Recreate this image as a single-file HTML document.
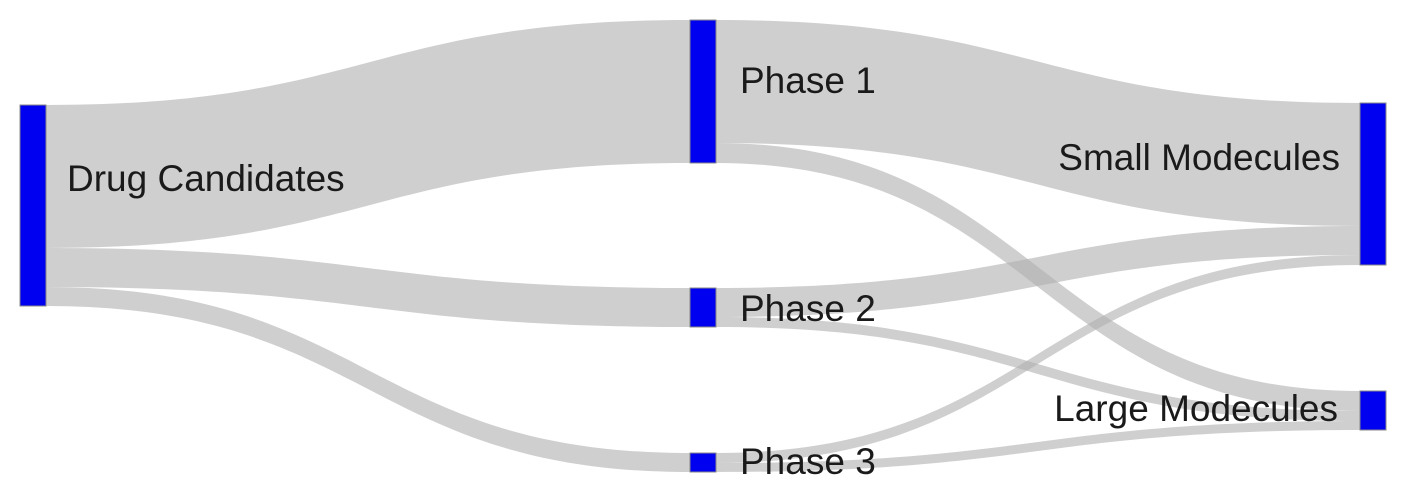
<!DOCTYPE html>
<html><head><meta charset="utf-8">
<style>
html,body{margin:0;padding:0;background:#fff;}
svg{display:block;}
text{font-family:"Liberation Sans",sans-serif;font-size:37px;fill:#1a1a1a;}
</style></head>
<body>
<svg id="chart" width="1407" height="493" viewBox="0 0 1407 493"></svg>
<script>
const nodeNames = ["Drug Candidates","Phase 1","Phase 2","Phase 3","Small Modecules","Large Modecules"];
const linkSources = [0,0,0,1,1,2,2,3,3];
const linkTargets = [1,2,3,4,5,4,5,4,5];
const linkValues = [143,39,19,123,20,29,10,10,9];

// layout (not data)
const nodeX = [20,690,690,690,1360,1360];
const nodeTop = [105,20,288,453,103,391];
const labelBase = [191,93,321,474,170,421];
const labelGap = [21,24,24,24,20,22];
const nodeW = 26;
const k = 1;
const NS = "http://www.w3.org/2000/svg";
const svg = document.getElementById('chart');

const inSum = nodeNames.map(()=>0), outSum = nodeNames.map(()=>0);
linkValues.forEach((v,i)=>{outSum[linkSources[i]]+=v; inSum[linkTargets[i]]+=v;});
const nodeH = nodeNames.map((_,i)=>Math.max(inSum[i],outSum[i])*k);

const gL = document.createElementNS(NS,'g');
svg.appendChild(gL);
const outOff = nodeNames.map(()=>0), inOff = nodeNames.map(()=>0);
linkValues.forEach((v,i)=>{
  const s=linkSources[i], t=linkTargets[i], w=v*k;
  const x0=nodeX[s]+nodeW, x1=nodeX[t];
  const y0=nodeTop[s]+outOff[s], y1=nodeTop[t]+inOff[t];
  outOff[s]+=w; inOff[t]+=w;
  const xm=(x0+x1)/2;
  const p=document.createElementNS(NS,'path');
  p.setAttribute('d',`M${x0},${y0} C${xm},${y0} ${xm},${y1} ${x1},${y1} L${x1},${y1+w} C${xm},${y1+w} ${xm},${y0+w} ${x0},${y0+w} Z`);
  p.setAttribute('fill','rgba(175,175,175,0.6)');
  
  
  gL.appendChild(p);
});

nodeNames.forEach((n,i)=>{
  const r=document.createElementNS(NS,'rect');
  r.setAttribute('x',nodeX[i]); r.setAttribute('y',nodeTop[i]);
  r.setAttribute('width',nodeW); r.setAttribute('height',nodeH[i]);
  r.setAttribute('fill','#0000f0'); r.setAttribute('stroke','#888'); r.setAttribute('stroke-width','1');
  
  
  svg.appendChild(r);
  const t=document.createElementNS(NS,'text');
  const right = i>=4;
  t.setAttribute('x', right ? nodeX[i]-labelGap[i] : nodeX[i]+nodeW+labelGap[i]);
  t.setAttribute('y', labelBase[i]);
  if(right) t.setAttribute('text-anchor','end');
  t.textContent=n;
  
  
  svg.appendChild(t);
});
</script>
</body></html>
